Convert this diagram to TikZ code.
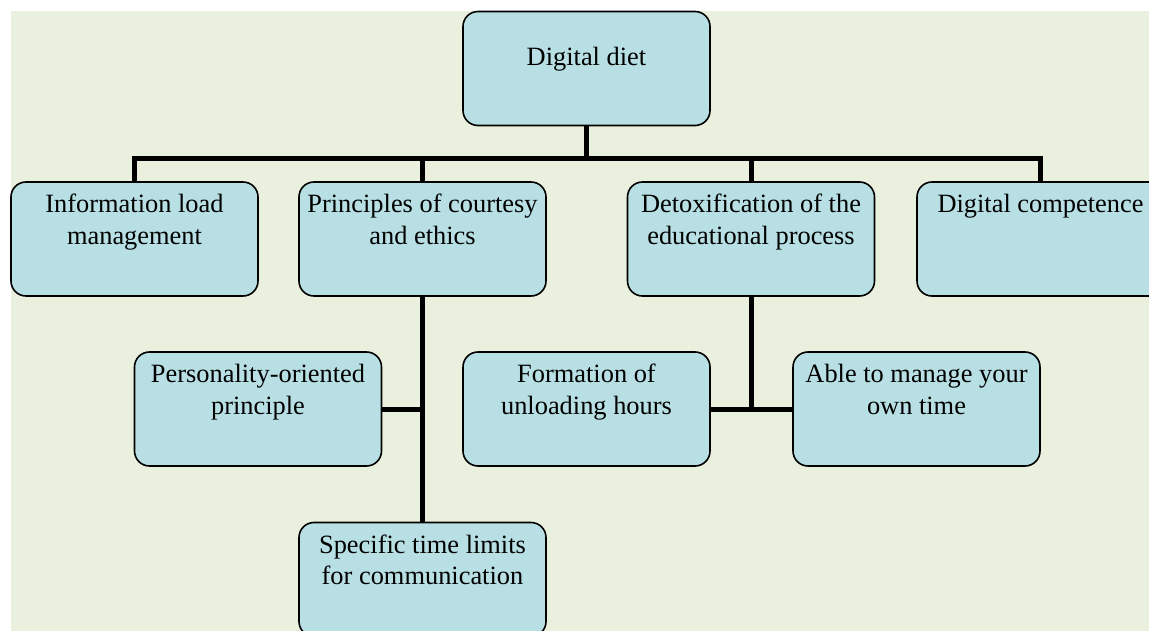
\documentclass[tikz,border=0pt]{standalone}
\usepackage{fontspec}
\setmainfont{Liberation Serif}
\definecolor{bgcol}{HTML}{E9F0DD}
\definecolor{boxcol}{HTML}{B8E0E4}
\newcommand{\boxtext}[2]{\parbox[c][114pt][t]{247pt}{\fontsize{26.4}{31.5}\selectfont\centering\vspace*{#1pt}\strut #2\par}}
\tikzset{
  orgbox/.style={draw=black, line width=1.6pt, fill=boxcol, rounded corners=15pt, inner sep=0pt, outer sep=0pt},
  conn/.style={draw=black, line width=5pt}
}
\begin{document}
\begin{tikzpicture}[x=1pt,y=-1pt]
\useasboundingbox (0,0) rectangle (1149,631);
\clip (0,0) rectangle (1149,631);
\fill[bgcol] (11,11) rectangle (1149,631);
\coordinate (bus) at (0,159);
\node[orgbox] (root) at (586.5,68.5) {\boxtext{31.6}{Digital diet}};
\node[orgbox] (info) at (134.5,239) {\boxtext{8.6}{Information load\\ management}};
\node[orgbox] (princ) at (422.5,239) {\boxtext{8.6}{Principles of courtesy\\ and ethics}};
\node[orgbox] (detox) at (751,239) {\boxtext{8.6}{Detoxification of the\\ educational process}};
\node[orgbox] (comp) at (1040.5,239) {\boxtext{8.6}{Digital competence}};
\node[orgbox] (pers) at (258,409) {\boxtext{8.6}{Personality-oriented\\ principle}};
\node[orgbox] (form) at (586.5,409) {\boxtext{8.6}{Formation of\\ unloading hours}};
\node[orgbox] (able) at (916.5,409) {\boxtext{8.6}{Able to manage your\\ own time}};
\node[orgbox] (spec) at (422.5,579.5) {\boxtext{8.6}{Specific time limits\\ for communication}};
\draw[conn] (root.south) -- (root.south |- bus);
\draw[conn] (info.north) -- (info.north |- bus) -- (comp.north |- bus) -- (comp.north);
\draw[conn] (princ.north) -- (princ.north |- bus);
\draw[conn] (detox.north) -- (detox.north |- bus);
\draw[conn] (princ.south) -- (spec.north);
\draw[conn] (pers.east) -- (pers.east -| princ.south);
\draw[conn] (detox.south) -- (detox.south |- form.east);
\draw[conn] (form.east) -- (able.west);
\end{tikzpicture}
\end{document}
